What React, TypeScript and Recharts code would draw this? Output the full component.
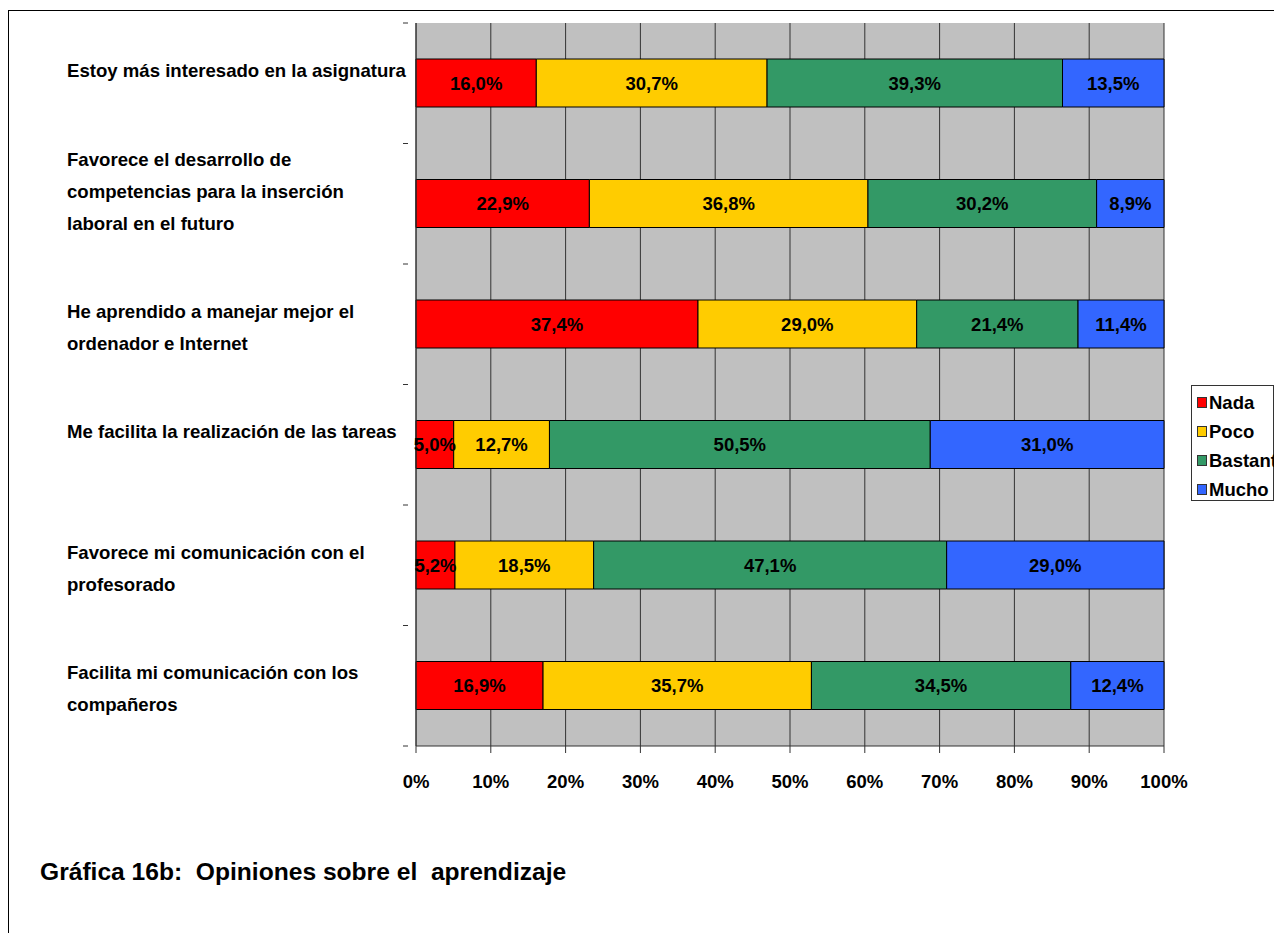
import React from "react";
import {
  BarChart,
  Bar,
  XAxis,
  YAxis,
  CartesianGrid,
  Legend,
  LabelList,
} from "recharts";

// categories, top to bottom
const categories = [
  "Estoy más interesado en la asignatura",
  "Favorece el desarrollo de competencias para la inserción laboral en el futuro",
  "He aprendido a manejar mejor el ordenador e Internet",
  "Me facilita la realización de las tareas",
  "Favorece mi comunicación con el profesorado",
  "Facilita mi comunicación con los compañeros",
];

// how each category label wraps
const categoryLines = [
  ["Estoy más interesado en la asignatura"],
  ["Favorece el desarrollo de", "competencias para la inserción", "laboral en el futuro"],
  ["He aprendido a manejar mejor el", "ordenador e Internet"],
  ["Me facilita la realización de las tareas"],
  ["Favorece mi comunicación con el", "profesorado"],
  ["Facilita mi comunicación con los", "compañeros"],
];

const nada = [16.0, 22.9, 37.4, 5.0, 5.2, 16.9];
const poco = [30.7, 36.8, 29.0, 12.7, 18.5, 35.7];
const bastante = [39.3, 30.2, 21.4, 50.5, 47.1, 34.5];
const mucho = [13.5, 8.9, 11.4, 31.0, 29.0, 12.4];

const xTicks = [0, 0.1, 0.2, 0.3, 0.4, 0.5, 0.6, 0.7, 0.8, 0.9, 1];

const series = [
  { key: "nada", name: "Nada", color: "#FF0000" },
  { key: "poco", name: "Poco", color: "#FFCC00" },
  { key: "bastante", name: "Bastante", color: "#339966" },
  { key: "mucho", name: "Mucho", color: "#3366FF" },
];

const data = categories.map((name, i) => ({
  name,
  nada: nada[i],
  poco: poco[i],
  bastante: bastante[i],
  mucho: mucho[i],
}));

const FONT = "Arial, 'Liberation Sans', Helvetica, sans-serif";
const CHART_W = 1270;
const CHART_H = 800;
const MARGIN = { top: 12, right: 115, bottom: 35, left: 0 };
const X_AXIS_H = 30;
const Y_AXIS_W = 407;
const band = (CHART_H - MARGIN.top - MARGIN.bottom - X_AXIS_H) / categories.length;

const fmt = (v: any) => Number(v).toFixed(1).replace(".", ",") + "%";

function CategoryTick(props: any) {
  const { x, y, index } = props;
  const lines = categoryLines[index] || [];
  const start = lines.length >= 3 ? -44 : -13;
  return (
    <g>
      <line x1={x - 5} x2={x} y1={y - band / 2} y2={y - band / 2} stroke="#333" />
      {index === categories.length - 1 && (
        <line x1={x - 5} x2={x} y1={y + band / 2} y2={y + band / 2} stroke="#333" />
      )}
      {lines.map((t, i) => (
        <text
          key={i}
          x={58}
          y={y + start + i * 32}
          dominantBaseline="central"
          textAnchor="start"
          fontFamily={FONT}
          fontWeight="bold"
          fontSize={18.6}
          fill="#000"
        >
          {t}
        </text>
      ))}
    </g>
  );
}

function LegendBox() {
  return (
    <div
      style={{
        width: 81,
        height: 112,
        border: "1px solid #333",
        background: "#fff",
        boxSizing: "content-box",
        paddingTop: 2,
        fontFamily: FONT,
        fontWeight: "bold",
        fontSize: 18.5,
        whiteSpace: "nowrap",
      }}
    >
      {series.map((s) => (
        <div
          key={s.key}
          style={{ height: 29, display: "flex", alignItems: "center", paddingLeft: 5 }}
        >
          <span
            style={{
              display: "inline-block",
              flexShrink: 0,
              width: 8,
              height: 9,
              background: s.color,
              border: "1px solid #333",
              marginRight: 2,
            }}
          />
          <span style={{ flexShrink: 0 }}>{s.name}</span>
        </div>
      ))}
    </div>
  );
}

export default function App() {
  return (
    <div
      style={{
        position: "relative",
        top: 2,
        width: CHART_W,
        height: 940,
        border: "1px solid #000",
        overflow: "hidden",
        background: "#fff",
      }}
    >
      <BarChart
        width={CHART_W}
        height={CHART_H}
        data={data}
        layout="vertical"
        stackOffset="expand"
        margin={MARGIN}
      >
        <CartesianGrid
          horizontal={false}
          fill="#C0C0C0"
          stroke="#333"
          strokeOpacity={1}
        />
        <XAxis
          type="number"
          domain={[0, 1]}
          ticks={xTicks}
          tickFormatter={(v) => `${Math.round(v * 100)}%`}
          height={X_AXIS_H}
          tickSize={7}
          tickMargin={22}
          axisLine={{ stroke: "#333" }}
          tickLine={{ stroke: "#333" }}
          tick={{ fill: "#000", fontFamily: FONT, fontWeight: "bold", fontSize: 18.5 }}
        />
        <YAxis
          type="category"
          dataKey="name"
          width={Y_AXIS_W}
          axisLine={{ stroke: "#333" }}
          tickLine={false}
          tick={<CategoryTick />}
          interval={0}
        />
        <Legend
          layout="vertical"
          align="center"
          verticalAlign="middle"
          wrapperStyle={{ position: "absolute", left: 1182, top: 374, width: "auto" }}
          content={() => <LegendBox />}
        />
        {series.map((s) => (
          <Bar
            key={s.key}
            dataKey={s.key}
            name={s.name}
            stackId="a"
            fill={s.color}
            stroke="#000"
            strokeWidth={1}
            barSize={48}
            isAnimationActive={false}
          >
            <LabelList
              dataKey={s.key}
              position="center"
              formatter={fmt}
              fill="#000"
              fontFamily={FONT}
              fontWeight="bold"
              fontSize={18.5}
            />
          </Bar>
        ))}
      </BarChart>
      <div
        style={{
          position: "absolute",
          left: 31,
          top: 847,
          fontFamily: FONT,
          fontWeight: "bold",
          fontSize: 24.6,
          whiteSpace: "pre",
          color: "#000",
        }}
      >
        {"Gráfica 16b:  Opiniones sobre el  aprendizaje"}
      </div>
    </div>
  );
}
